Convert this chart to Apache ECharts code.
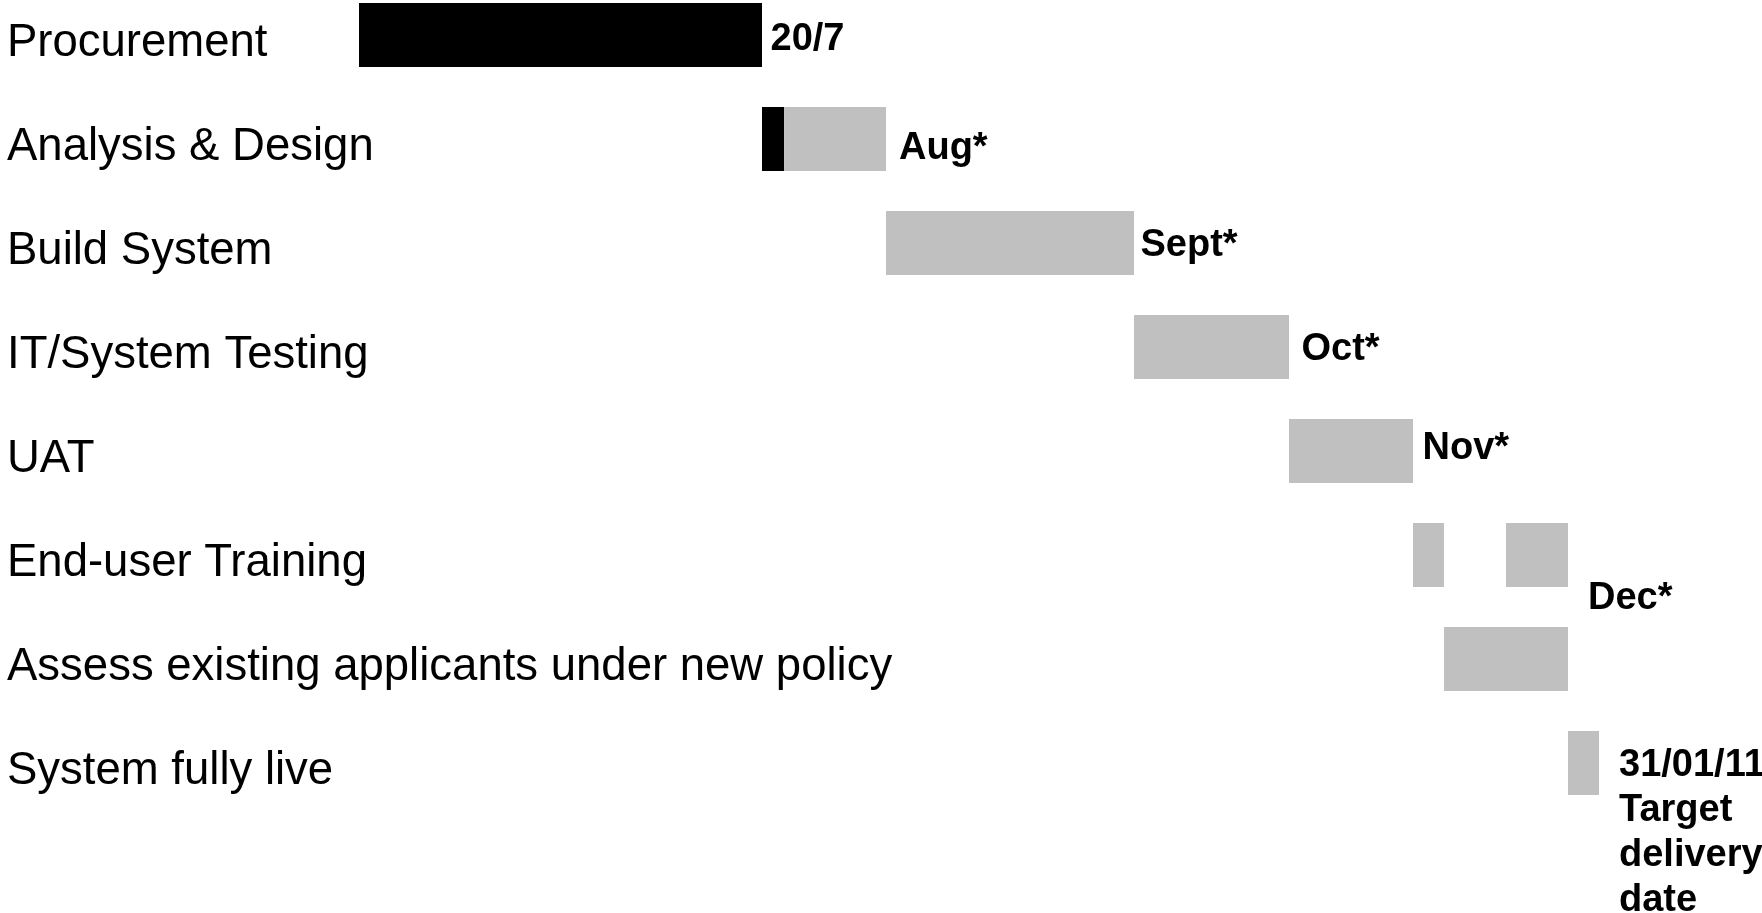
<!DOCTYPE html>
<html>
<head>
<meta charset="utf-8">
<script src="https://cdn.jsdelivr.net/npm/echarts@6/dist/echarts.min.js"></script>
<style>
html,body{margin:0;padding:0;background:#fff;}
#chart{width:1762px;height:913px;}
</style>
</head>
<body>
<div id="chart"></div>
<script>
// Data (units: weeks from start of procurement)
const categories = ['Procurement', 'Analysis & Design', 'Build System', 'IT/System Testing', 'UAT', 'End-user Training', 'Assess existing applicants under new policy', 'System fully live'];
const taskStart = [0, 13, 17, 25, 30, 34, 35, 39];
const doneDur = [13, 0.714, 0, 0, 0, 0, 0, 0];
const planDur = [0, 3.286, 8, 5, 4, 1, 4, 1];
const gapDur = [0, 0, 0, 0, 0, 2, 0, 0];
const plan2Dur = [0, 0, 0, 0, 0, 2, 0, 0];
const milestoneLabels = ['20/7', 'Aug*', 'Sept*', 'Oct*', 'Nov*', 'Dec*', '', '31/01/11\nTarget\ndelivery\ndate'];

// layout of the milestone texts (pixels)
const labelOffsets = [[8.5, 4.5], [13, 9.5], [6.5, 3], [12.5, 3], [9.5, -2.5], [20, 44], [0, 0], [20, -19.5]];

const FONT = "'Liberation Sans', Arial, Helvetica, sans-serif";
const chart = echarts.init(document.getElementById('chart'));

const labelData = categories.map((c, i) => {
  const item = {value: 0, label: {show: milestoneLabels[i] !== '', formatter: milestoneLabels[i], offset: labelOffsets[i]}};
  if (milestoneLabels[i].indexOf('\n') >= 0) {
    item.label.verticalAlign = 'top';
    item.label.lineHeight = 45;
  }
  return item;
});

const common = {type: 'bar', stack: 'task', barCategoryGap: '38.5%', silent: true, clip: false};

chart.setOption({
  animation: false,
  grid: {left: 359, right: 8, top: 35, bottom: 150, containLabel: false},
  xAxis: {type: 'value', min: 0, max: 45, show: false},
  yAxis: {
    type: 'category', data: categories, inverse: true, boundaryGap: false,
    axisLine: {show: false}, axisTick: {show: false}, splitLine: {show: false},
    axisLabel: {align: 'left', verticalAlign: 'top', lineHeight: 16, margin: 352, fontSize: 45.5, color: '#000', fontFamily: FONT}
  },
  series: [
    Object.assign({}, common, {name: 'start', data: taskStart, itemStyle: {color: 'rgba(0,0,0,0)'}}),
    Object.assign({}, common, {name: 'done', data: doneDur, itemStyle: {color: '#000000'}}),
    Object.assign({}, common, {name: 'planned', data: planDur, itemStyle: {color: '#C0C0C0'}}),
    Object.assign({}, common, {name: 'gap', data: gapDur, itemStyle: {color: 'rgba(0,0,0,0)'}}),
    Object.assign({}, common, {name: 'planned2', data: plan2Dur, itemStyle: {color: '#C0C0C0'}}),
    Object.assign({}, common, {
      name: 'milestone', data: labelData, itemStyle: {color: 'rgba(0,0,0,0)'},
      label: {show: true, position: 'right', distance: 0, fontSize: 38, fontWeight: 'bold', color: '#000', fontFamily: FONT}
    })
  ]
});
</script>
</body>
</html>
